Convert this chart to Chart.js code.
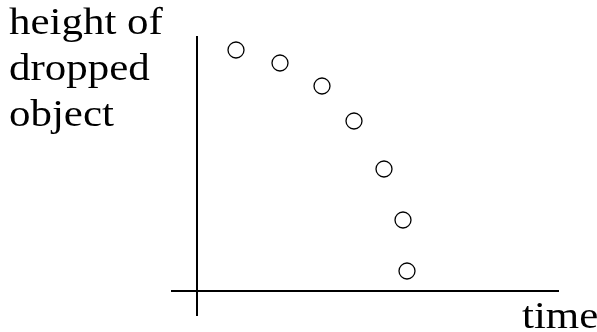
<!DOCTYPE html>
<html>
<head>
<meta charset="utf-8">
<script src="https://cdn.jsdelivr.net/npm/chart.js@4"></script>
<style>
  html, body { margin: 0; padding: 0; background: #fff; }
  #wrap { position: relative; width: 597px; height: 332px; }
  .lbl {
    position: absolute;
    font-family: "Liberation Serif", "Times New Roman", serif;
    font-size: 38px;
    line-height: 46px;
    color: #000;
    transform-origin: 0 0;
    transform: scaleX(1.13);
    white-space: nowrap;
  }
</style>
</head>
<body>
<div id="wrap">
  <canvas id="grafico" width="597" height="332"></canvas>
  <div class="lbl" style="left:9px; top:-2px;">height of<br>dropped<br>object</div>
  <div class="lbl" style="left:522px; top:292px;">time</div>
</div>
<script>
// time (arbitrary units) and height of the dropped object
var tempo = [3.9, 8.3, 12.5, 15.7, 18.7, 20.6, 21.0];
var altura = [24.1, 22.8, 20.5, 17.0, 12.2, 7.1, 2.0];

var pontos = tempo.map(function(t, i){ return {x: t, y: altura[i]}; });

var ctx = document.getElementById('grafico').getContext('2d');
var grafico = new Chart(ctx, {
  type: 'scatter',
  data: {
    datasets: [{
      data: pontos,
      backgroundColor: '#fff',
      borderColor: '#000',
      borderWidth: 1.3,
      pointRadius: 8,
      pointHoverRadius: 8
    }]
  },
  options: {
    responsive: false,
    animation: false,
    events: [],
    layout: { padding: { left: 172, right: 39, top: 37, bottom: 17 } },
    plugins: { legend: { display: false }, tooltip: { enabled: false } },
    scales: {
      x: {
        type: 'linear',
        min: -2.5, max: 36.1,
        position: { y: 0 },
        grid: { display: false },
        ticks: { display: false },
        border: { display: true, color: '#000', width: 2 }
      },
      y: {
        type: 'linear',
        min: -2.4, max: 25.4,
        position: { x: 0 },
        grid: { display: false },
        ticks: { display: false },
        border: { display: true, color: '#000', width: 2 }
      }
    }
  }
});
</script>
</body>
</html>
